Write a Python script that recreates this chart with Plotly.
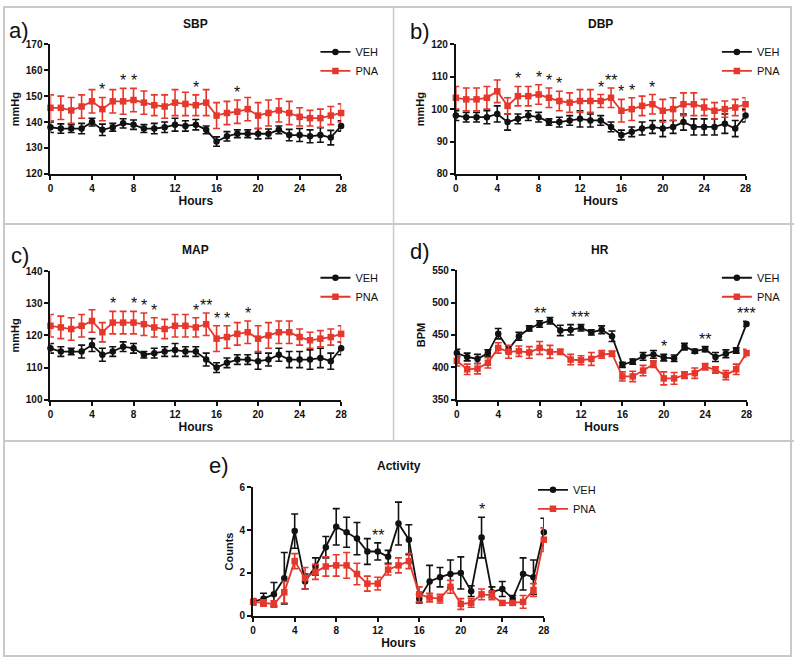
import plotly.graph_objects as go

hours = list(range(29))

# ---- a) SBP ----
sbp_veh = [138, 137.5, 137.5, 137.5, 140, 137, 138, 139.5, 139, 137.5, 137.5, 138, 139, 138.5, 139, 137,
           132.5, 134.5, 135.5, 135.5, 135.5, 135.5, 137, 135, 135, 134.5, 135, 134, 138.5]
sbp_veh_err = [2, 1.8, 1.5, 2, 1.5, 2.2, 1.5, 1.8, 1.8, 1.5, 2, 2, 2.5, 2, 2, 1.5,
               1.8, 1.8, 1.5, 1.5, 2, 1.8, 1.5, 2.2, 2.5, 2.5, 2.8, 2.8, 2]
sbp_pna = [145.5, 145.5, 144.5, 146, 148, 145, 148, 148, 148.5, 147.5, 146.5, 146, 147.5, 147, 146.5, 147.5,
           142.5, 143.5, 144, 145, 142.5, 143.5, 144.5, 143.5, 142, 141.5, 141.5, 142.5, 143.5]
sbp_pna_err = [5, 4.5, 5, 4.5, 4.5, 4.5, 4.5, 5, 4.5, 4.5, 4, 4.5, 5, 4.5, 4, 5,
               5, 4.5, 4.5, 4.5, 5, 5, 4.5, 4.5, 3.5, 3, 3.5, 3.5, 3.5]
sbp_sig = {5: "*", 7: "*", 8: "*", 14: "*", 18: "*"}

# ---- b) DBP ----
dbp_veh = [98, 97.5, 97.5, 97.5, 98.5, 96, 97, 98, 97.5, 96, 96, 96.5, 97, 96.5, 96.5, 94.5,
           92, 93, 94, 94.5, 94, 94.5, 96, 94.5, 94.5, 94.5, 95.5, 94, 98]
dbp_veh_err = [1.5, 1.5, 1.5, 2, 2.5, 2.5, 1.5, 1.5, 1.5, 1, 1.5, 1.5, 2.5, 2, 1.5, 1.5,
               1.5, 1.5, 2, 2, 2.5, 2, 2.5, 2.5, 2.5, 2.5, 3, 2.5, 2]
dbp_pna = [103.5, 103, 103, 103.5, 105.5, 101, 104, 104, 104.5, 103.5, 102.5, 102, 102.5, 102.5, 102.5, 103.5,
           99.5, 100, 101, 101.5, 99.5, 100, 101.5, 101.5, 100.5, 99.5, 100, 100.5, 101.5]
dbp_pna_err = [3.5, 3.5, 3.5, 3.5, 3.5, 2.5, 3, 3, 3, 3, 3, 3, 3.5, 3.5, 2, 3,
               3.5, 3.5, 3, 3, 3.5, 3.5, 3.5, 3.5, 2.5, 2.5, 2.5, 2.5, 2]
dbp_sig = {6: "*", 8: "*", 9: "*", 10: "*", 14: "*", 15: "**", 16: "*", 17: "*", 19: "*"}

# ---- c) MAP ----
map_veh = [116, 115, 115, 115, 117, 114, 115, 116.5, 116, 114, 114.5, 115, 115.5, 115, 115, 112.5,
           110, 111.5, 112.5, 112.5, 112, 112.5, 114, 112.5, 112.5, 112.5, 113, 112, 116]
map_veh_err = [1.5, 1.5, 1, 2, 2, 2, 1.5, 1.5, 1.5, 1, 1.5, 1.5, 2, 1.5, 1.5, 2,
               1.5, 1.5, 1.5, 1.5, 2.5, 2, 2, 2.5, 2.5, 3, 3, 2.5, 2]
map_pna = [123, 122.5, 122, 123, 124.5, 121, 124, 124, 124, 123.5, 122.5, 122, 123, 123, 122.5, 123.5,
           119, 119.5, 120.5, 121, 119, 120, 121, 121, 119.5, 118.5, 119, 119.5, 120.5]
map_pna_err = [3.5, 3.5, 3.5, 3.5, 3.5, 3, 3.5, 3.5, 3.5, 3.5, 3, 3, 3.5, 3.5, 3, 3.5,
               4, 3.5, 3.5, 3.5, 4, 4, 3.5, 3.5, 2.5, 2.5, 2.5, 2.5, 2.5]
map_sig = {6: "*", 8: "*", 9: "*", 10: "*", 14: "*", 15: "**", 16: "*", 17: "*", 19: "*"}

# ---- d) HR ----
hr_veh = [422, 416, 413, 422, 452, 428, 448, 460, 467, 472, 457, 458, 461, 454, 458, 448,
          404, 409, 417, 420, 415, 414, 432, 425, 428, 416, 421, 426, 467]
hr_veh_err = [6, 6, 7, 5, 8, 5, 6, 4, 5, 5, 8, 8, 5, 4, 6, 8,
              4, 4, 6, 6, 5, 5, 5, 3, 4, 7, 6, 4, 4]
hr_pna = [410, 397, 398, 407, 430, 424, 425, 423, 430, 424, 424, 412, 411, 413, 420, 421,
          386, 386, 395, 405, 383, 383, 388, 391, 401, 396, 388, 397, 422]
hr_pna_err = [8, 8, 8, 8, 8, 10, 8, 9, 10, 10, 4, 8, 7, 10, 6, 4,
              7, 8, 8, 5, 10, 9, 5, 8, 5, 5, 7, 8, 6]
hr_sig = {8: "**", 12: "***", 20: "*", 24: "**", 28: "***"}

# ---- e) Activity ----
act_veh = [0.65, 0.8, 1.0, 1.75, 3.95, 1.6, 2.3, 3.2, 4.15, 3.9, 3.6, 3.0, 3.0, 2.75, 4.3, 3.55,
           0.8, 1.6, 1.8, 1.95, 2.0, 1.15, 3.65, 1.1, 1.25, 0.8, 1.95, 1.8, 3.9]
act_veh_err = [0.1, 0.25, 0.55, 1.2, 0.8, 0.35, 0.4, 0.5, 0.85, 0.7, 0.75, 0.6, 0.4, 0.3, 1.0, 0.7,
               0.2, 0.75, 0.45, 0.65, 0.75, 0.25, 0.95, 0.25, 0.35, 0.15, 0.75, 0.8, 0.65]
act_pna = [0.65, 0.6, 0.55, 1.1, 2.55, 1.75, 2.05, 2.3, 2.35, 2.35, 1.95, 1.5, 1.5, 2.15, 2.35, 2.55,
           1.0, 0.85, 0.8, 1.35, 0.55, 0.6, 1.0, 0.95, 0.6, 0.6, 0.65, 1.2, 3.55]
act_pna_err = [0.15, 0.15, 0.15, 0.5, 0.35, 0.5, 0.35, 0.45, 0.5, 0.6, 0.5, 0.35, 0.3, 0.25, 0.35, 0.35,
               0.35, 0.2, 0.2, 0.3, 0.25, 0.2, 0.25, 0.2, 0.1, 0.1, 0.3, 0.3, 0.55]
act_sig = {12: "**", 22: "*"}

hour_ticks = [0, 4, 8, 12, 16, 20, 24, 28]

W, H = 800, 665
BLACK = "#111111"
RED = "#e5372c"
FONT = "Arial, Liberation Sans, sans-serif"


def px_x(v):
    return v / W


def px_y(v):
    return 1 - v / H


panels = [
    dict(label="a)", title="SBP", ytitle="mmHg", veh=sbp_veh, veh_err=sbp_veh_err, pna=sbp_pna,
         pna_err=sbp_pna_err, sig=sbp_sig, yr=[120, 170], dt=10,
         xd=[48, 342], yd=[39, 171], leg=(316, 32), lab=(4, 25), tit=(195, 18)),
    dict(label="b)", title="DBP", ytitle="mmHg", veh=dbp_veh, veh_err=dbp_veh_err, pna=dbp_pna,
         pna_err=dbp_pna_err, sig=dbp_sig, yr=[80, 120], dt=10,
         xd=[458, 751], yd=[39, 171], leg=(722, 32), lab=(410, 26), tit=(604, 18)),
    dict(label="c)", title="MAP", ytitle="mmHg", veh=map_veh, veh_err=map_veh_err, pna=map_pna,
         pna_err=map_pna_err, sig=map_sig, yr=[100, 140], dt=10,
         xd=[48, 342], yd=[270, 401], leg=(316, 262), lab=(6, 254), tit=(195, 248)),
    dict(label="d)", title="HR", ytitle="BPM", veh=hr_veh, veh_err=hr_veh_err, pna=hr_pna,
         pna_err=hr_pna_err, sig=hr_sig, yr=[350, 550], dt=50,
         xd=[459, 752], yd=[269, 401], leg=(722, 262), lab=(410, 250), tit=(604, 248)),
    dict(label="e)", title="Activity", ytitle="Counts", veh=act_veh, veh_err=act_veh_err, pna=act_pna,
         pna_err=act_pna_err, sig=act_sig, yr=[0, 6], dt=2,
         xd=[253, 547], yd=[490, 621], leg=(536, 478), lab=(206, 468), tit=(400, 468)),
]

fig = go.Figure()
annotations = []
layout = {}

for i, p in enumerate(panels):
    n = "" if i == 0 else str(i + 1)
    xa, ya = "x" + n, "y" + n
    legname = "legend" + n
    for name, vals, errs, col, sym in [("VEH", p["veh"], p["veh_err"], BLACK, "circle"),
                                       ("PNA", p["pna"], p["pna_err"], RED, "square")]:
        fig.add_trace(go.Scatter(
            x=hours, y=vals, name=name, mode="lines+markers",
            line=dict(color=col, width=1.8),
            marker=dict(color=col, size=6.5, symbol=sym),
            error_y=dict(type="data", array=errs, visible=True, color=col, thickness=1.6, width=3.5),
            xaxis=xa, yaxis=ya, legend=legname, cliponaxis=False,
        ))
    axis_common = dict(showline=True, linecolor=BLACK, linewidth=2, ticks="outside", ticklen=4,
                       tickwidth=2, tickcolor=BLACK, showgrid=False, zeroline=False,
                       tickfont=dict(family=FONT, size=10, color=BLACK, weight="bold"))
    layout["xaxis" + n] = dict(axis_common, domain=[px_x(p["xd"][0]), px_x(p["xd"][1])],
                               range=[0, 28], tickvals=hour_ticks, anchor=ya,
                               title=dict(text="Hours", standoff=4,
                                          font=dict(family=FONT, size=12, color=BLACK, weight="bold")))
    layout["yaxis" + n] = dict(axis_common, domain=[px_y(p["yd"][1]), px_y(p["yd"][0])],
                               range=p["yr"], dtick=p["dt"], tick0=p["yr"][0], anchor=xa,
                               title=dict(text=p["ytitle"], standoff=4,
                                          font=dict(family=FONT, size=11, color=BLACK, weight="bold")))
    layout[legname] = dict(x=px_x(p["leg"][0]), y=px_y(p["leg"][1]), xanchor="left", yanchor="top",
                           bgcolor="rgba(0,0,0,0)", itemwidth=30,
                           font=dict(family=FONT, size=11, color=BLACK), tracegroupgap=2)
    # significance stars above the higher error bar
    for h, s in p["sig"].items():
        top = max(p["veh"][h] + p["veh_err"][h], p["pna"][h] + p["pna_err"][h])
        annotations.append(dict(x=h, y=top, xref=xa, yref=ya, text=s, showarrow=False,
                                yanchor="bottom", yshift=-3,
                                font=dict(family=FONT, size=16, color=BLACK)))
    annotations.append(dict(x=px_x(p["tit"][0]), y=px_y(p["tit"][1]), xref="paper", yref="paper",
                            text=p["title"], showarrow=False, xanchor="center", yanchor="middle",
                            font=dict(family=FONT, size=12, color=BLACK, weight="bold")))
    annotations.append(dict(x=px_x(p["lab"][0]), y=px_y(p["lab"][1]), xref="paper", yref="paper",
                            text=p["label"], showarrow=False, xanchor="left", yanchor="middle",
                            font=dict(family=FONT, size=22, color=BLACK)))

GRAY = "#c9c9c9"
shapes = [
    dict(type="rect", xref="paper", yref="paper", x0=1 / W, x1=1 - 3 / W, y0=3 / H, y1=1 - 1 / H,
         line=dict(color=GRAY, width=2)),
    dict(type="line", xref="paper", yref="paper", x0=0, x1=1, y0=px_y(222), y1=px_y(222),
         line=dict(color=GRAY, width=2)),
    dict(type="line", xref="paper", yref="paper", x0=0, x1=1, y0=px_y(443), y1=px_y(443),
         line=dict(color=GRAY, width=2)),
    dict(type="line", xref="paper", yref="paper", x0=px_x(395), x1=px_x(395), y0=px_y(443), y1=1,
         line=dict(color=GRAY, width=1.5)),
]

fig.update_layout(
    width=W, height=H, margin=dict(l=0, r=0, t=0, b=0),
    paper_bgcolor="white", plot_bgcolor="white",
    annotations=annotations, shapes=shapes, **layout,
)

fig.write_html("out.html", config={"displayModeBar": False},
               post_script="document.body.style.margin='0px';document.body.style.overflow='hidden';")
